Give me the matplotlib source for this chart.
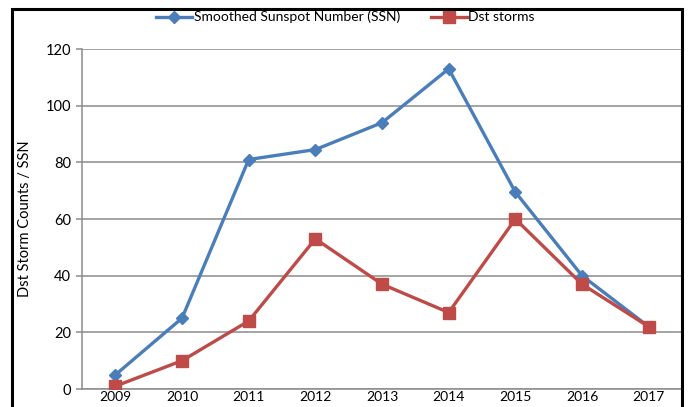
import matplotlib
matplotlib.use('Agg')
import matplotlib.pyplot as plt
from matplotlib.patches import Rectangle

years = ['2009', '2010', '2011', '2012', '2013', '2014', '2015', '2016', '2017']
ssn = [5, 25, 81, 84.5, 94, 113, 69.5, 40, 22]
dst_storms = [1, 10, 24, 53, 37, 27, 60, 37, 22]
yticks = [0, 20, 40, 60, 80, 100, 120]

plt.rcParams['font.family'] = ['Lato', 'DejaVu Sans']
grey = '#8c8c8c'

fig = plt.figure(figsize=(6.91, 4.07), dpi=100)
ax = fig.add_axes([0.1187, 0.0442, 0.987 - 0.1187, 0.8796 - 0.0442])

x = list(range(len(years)))
ax.plot(x, ssn, color='#4a7ebb', lw=2.4, marker='D', ms=6,
        label='Smoothed Sunspot Number (SSN)', zorder=3)
ax.plot(x, dst_storms, color='#be4b48', lw=2.4, marker='s', ms=8,
        label='Dst storms', zorder=3)

ax.set_xlim(-0.5, len(years) - 0.5)
ax.set_ylim(0, 120)
ax.set_xticks(x)
ax.set_xticklabels(years)
ax.set_yticks(yticks)
ax.yaxis.grid(True, color=grey, lw=1.1)
ax.set_axisbelow(True)
for side in ['top', 'right']:
    ax.spines[side].set_visible(False)
for side in ['left', 'bottom']:
    ax.spines[side].set_color(grey)
    ax.spines[side].set_linewidth(1.1)
ax.tick_params(axis='y', length=4, color=grey, width=1.1, labelsize=10.5, pad=4)
ax.tick_params(axis='x', length=0, labelsize=10, pad=1.5)
ax.set_ylabel('Dst Storm Counts / SSN', fontsize=10.5, labelpad=10)

fig.legend(loc='center', bbox_to_anchor=(0.5, 0.958), ncol=2, frameon=False,
           fontsize=10, handlelength=2.6, columnspacing=2.2, handletextpad=0.1)

# black border round the chart area
fig.patches.append(Rectangle((12 / 691, -0.1), 670 / 691, 1.1 - 9 / 407,
                             transform=fig.transFigure, fill=False,
                             edgecolor='black', lw=2.2, zorder=10))

plt.savefig('out.png', dpi=100)
